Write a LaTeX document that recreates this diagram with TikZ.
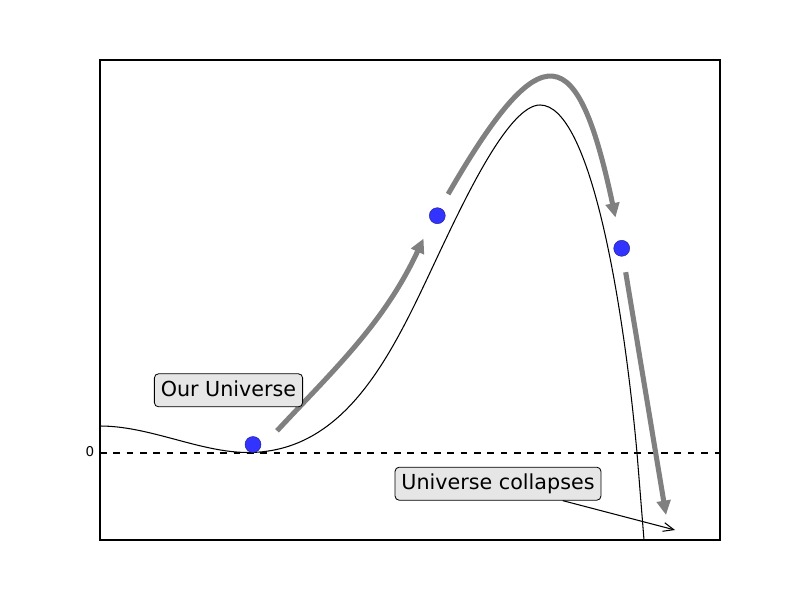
\documentclass[tikz,border=0pt]{standalone}
\usepackage{fontspec}
\setmainfont{DejaVu Sans}
\usetikzlibrary{arrows.meta}
\definecolor{ballblue}{RGB}{51,51,255}
\definecolor{rollgray}{RGB}{128,128,128}
\definecolor{boxgray}{RGB}{230,230,230}

\begin{document}
\begin{tikzpicture}[x=0.025cm, y=0.025cm,
    ball/.style={circle, fill=ballblue, draw=ballblue!55!black, line width=0.3pt,
      minimum size=0.4cm, inner sep=0pt},
    tag/.style={draw, line width=0.6pt, rounded corners=3pt, fill=boxgray,
      font=\fontsize{14.7}{17}\selectfont, inner xsep=4.6pt, inner ysep=4.6pt,
      text height=11.5pt, text depth=2.8pt},
    roll/.style={rollgray, line width=3.6pt, -{Triangle[length=0.36cm,width=0.34cm]}}]
  \useasboundingbox (0,0) rectangle (800,600);
  % Frame and zero level
  \draw[line width=0.75pt] (100,60) rectangle (720,540);
  \draw[line width=0.75pt, dash pattern=on 4.75pt off 4.75pt] (100,147) -- (720,147);
  \node[font=\fontsize{9.6}{11}\selectfont, inner sep=0pt] (zero) at (90,148.5) {0};
  % Potential
  \draw[line width=0.75pt] (100,174) .. controls (150,174) and (200,147.5) .. (248,147.5)
    .. controls (353,147.5) and (398,260.5) .. (443,355)
    .. controls (468,407.5) and (510,495) .. (540,495)
    .. controls (590,495) and (623,301) .. (637,147) -- (644,60);
  % Universe positions
  \node[ball] (ball1) at (253,155.5) {};
  \node[ball] (ball2) at (437.3,384.3) {};
  \node[ball] (ball3) at (621.7,351.7) {};
  \coordinate (fall) at (666,85);
  % Rolling arrows
  \draw[roll, shorten <=0.66cm, shorten >=0.47cm] (ball1.-43) to[out=47, in=245] (ball2.225);
  \draw[roll, shorten <=0.4cm, shorten >=0.58cm] (ball2.70) to[out=60, in=102, looseness=2.86] (ball3.100);
  \draw[roll, shorten <=0.4cm] (ball3) -- (fall);
  % Labels
  \node[tag] (ours) at (228.5,209.7) {Our Universe};
  \node[tag] (collapse) at (498,116.3) {Universe collapses};
  \coordinate (collapsetip) at (675,70);
  \draw[line width=0.75pt, -{Straight Barb[length=0.26cm,width=0.22cm]}] (collapse) -- (collapsetip);
\end{tikzpicture}
\end{document}
